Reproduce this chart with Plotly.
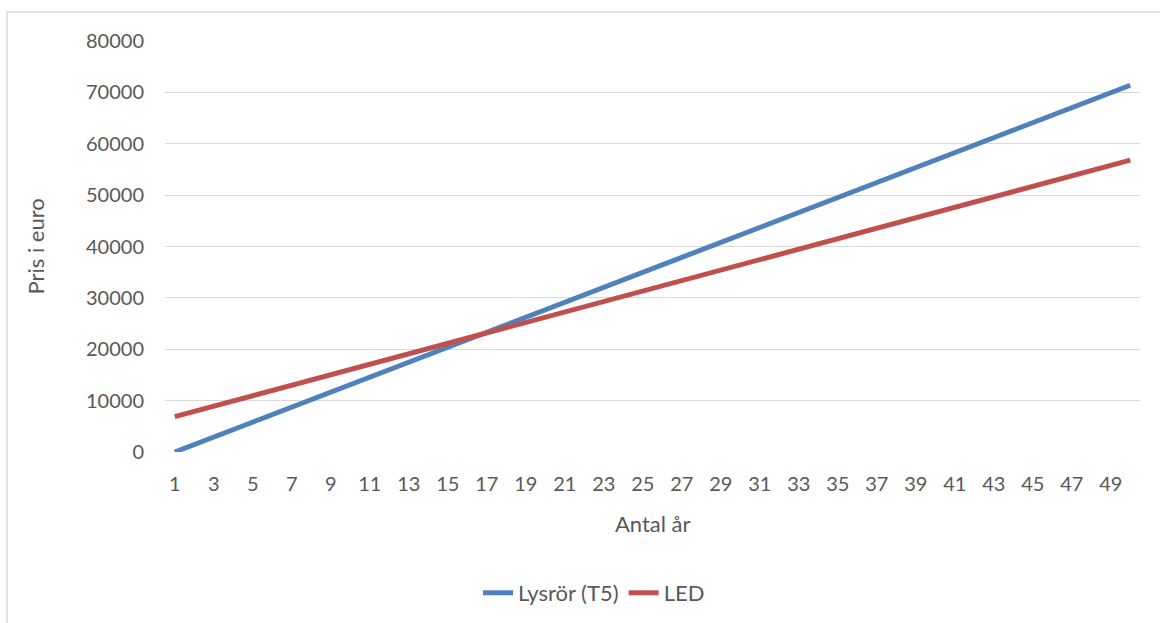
import plotly.graph_objects as go

years = list(range(1, 51))

lysror_t5 = [
    0, 1457, 2914, 4371, 5828, 7285, 8742, 10199, 11656, 13113,
    14570, 16027, 17484, 18941, 20398, 21855, 23312, 24769, 26226, 27683,
    29140, 30597, 32054, 33511, 34968, 36425, 37882, 39339, 40796, 42253,
    43710, 45167, 46624, 48081, 49538, 50995, 52452, 53909, 55366, 56823,
    58280, 59737, 61194, 62651, 64108, 65565, 67022, 68479, 69936, 71393,
]

led = [
    6870, 7889, 8908, 9927, 10946, 11965, 12984, 14003, 15022, 16041,
    17060, 18079, 19098, 20117, 21136, 22155, 23174, 24193, 25212, 26231,
    27250, 28269, 29288, 30307, 31326, 32345, 33364, 34383, 35402, 36421,
    37440, 38459, 39478, 40497, 41516, 42535, 43554, 44573, 45592, 46611,
    47630, 48649, 49668, 50687, 51706, 52725, 53744, 54763, 55782, 56801,
]

x_ticks = list(range(1, 51, 2))
y_ticks = list(range(0, 80001, 10000))

FONT = "Lato, 'Open Sans', sans-serif"
TEXT = "#595959"

fig = go.Figure()
fig.add_trace(go.Scatter(
    x=years, y=lysror_t5, mode="lines", name="Lysrör (T5)",
    line=dict(color="#4F81BD", width=5), cliponaxis=False,
))
fig.add_trace(go.Scatter(
    x=years, y=led, mode="lines", name="LED",
    line=dict(color="#C0504D", width=5), cliponaxis=False,
))

fig.update_layout(
    width=1160, height=623,
    margin=dict(l=165, r=20, t=41, b=171, autoexpand=False),
    paper_bgcolor="white", plot_bgcolor="white",
    font=dict(family=FONT, size=20, color=TEXT),
    showlegend=True,
    legend=dict(
        orientation="h", x=0.44, xanchor="center", y=-0.343, yanchor="middle",
        font=dict(family=FONT, size=22, color=TEXT),
    ),
    xaxis=dict(
        range=[0.5, 50.5], tickmode="array", tickvals=x_ticks,
        ticktext=[str(v) for v in x_ticks],
        showgrid=False, zeroline=False, showline=False, ticks="",
        tickfont=dict(size=20, color=TEXT), ticklabelstandoff=18,
        automargin=False,
    ),
    yaxis=dict(
        range=[0, 80000], tickmode="array", tickvals=y_ticks,
        ticktext=[str(v) for v in y_ticks],
        showgrid=True, gridcolor="#D9D9D9", gridwidth=1,
        zeroline=False, showline=False, ticks="",
        tickfont=dict(size=20, color=TEXT), ticklabelstandoff=20,
        automargin=False,
    ),
    annotations=[
        dict(text="Antal år", xref="paper", yref="paper",
             x=0.5, y=-71 / 411, xanchor="center", yanchor="middle",
             showarrow=False, font=dict(size=22, color=TEXT)),
        dict(text="Pris i euro", xref="paper", yref="paper",
             x=(35 - 165) / 975, y=0.5, xanchor="center", yanchor="middle",
             textangle=-90, showarrow=False, font=dict(size=22, color=TEXT)),
    ],
    shapes=[dict(
        type="rect", xref="paper", yref="paper",
        x0=-0.162, x1=1.05, y0=-0.8, y1=1.0706,
        line=dict(color="#D9D9D9", width=1.5), fillcolor="rgba(0,0,0,0)",
        layer="below",
    )],
)

fig.write_html("out.html")
